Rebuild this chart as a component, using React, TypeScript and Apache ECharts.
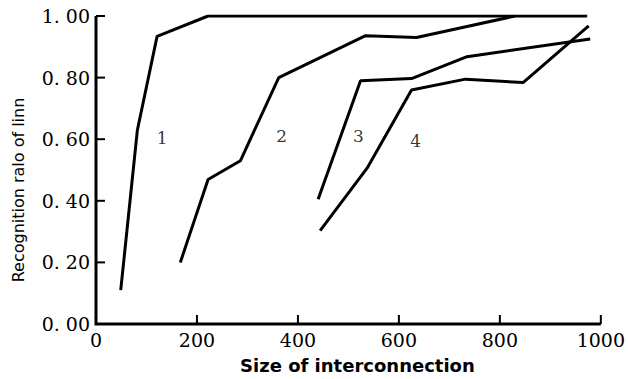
import React, { useEffect, useRef } from "react";
import * as echarts from "echarts";

const xTicks = [0, 200, 400, 600, 800, 1000];
const yTicks = [0, 0.2, 0.4, 0.6, 0.8, 1.0];

const curve1: [number, number][] = [[49, 0.11], [82, 0.63], [121, 0.934], [222, 1.0], [973, 1.0]];
const curve2: [number, number][] = [[167, 0.2], [222, 0.469], [286, 0.53], [362, 0.8], [534, 0.936], [635, 0.93], [830, 1.0]];
const curve3: [number, number][] = [[440, 0.405], [524, 0.79], [625, 0.797], [735, 0.868], [979, 0.925]];
const curve4: [number, number][] = [[444, 0.303], [537, 0.506], [625, 0.76], [732, 0.795], [846, 0.784], [976, 0.968]];

const curveLabels = ["1", "2", "3", "4"];
const curveLabelPos: [number, number][] = [[131, 0.603], [368, 0.609], [520, 0.609], [633, 0.593]];

const xName = "Size of interconnection";
const yName = "Recognition ralo of linn";

export default function App() {
  const ref = useRef<HTMLDivElement>(null);
  useEffect(() => {
    const chart = echarts.init(ref.current!, null, { renderer: "svg" });
    const xMin = xTicks[0];
    const xMax = xTicks[xTicks.length - 1];
    const yMin = yTicks[0];
    const yMax = yTicks[yTicks.length - 1];
    const lineSeries = [curve1, curve2, curve3, curve4].map((d) => ({
      type: "line",
      data: d,
      symbol: "none",
      lineStyle: { color: "#000", width: 3 },
      z: 3,
    }));
    chart.setOption({
      animation: false,
      backgroundColor: "#fff",
      grid: { left: 96, right: 19, top: 16, bottom: 51 },
      xAxis: {
        type: "value",
        min: xMin,
        max: xMax,
        interval: 200,
        name: xName,
        nameLocation: "middle",
        nameGap: 32,
        nameTextStyle: { fontFamily: "DejaVu Sans", fontSize: 18, fontWeight: "bold", color: "#000", padding: [0, 0, 0, 18] },
        axisLine: { show: false },
        axisTick: { show: false },
        axisLabel: { fontFamily: "DejaVu Serif", fontSize: 19, color: "#000", margin: 6, formatter: (v: number) => String(v) },
        splitLine: { show: false },
      },
      yAxis: {
        type: "value",
        min: yMin,
        max: yMax,
        interval: 0.2,
        axisLine: { show: false },
        axisTick: { show: false },
        axisLabel: {
          fontFamily: "DejaVu Serif",
          fontSize: 19,
          color: "#000",
          margin: 6,
          formatter: (v: number) => v.toFixed(2).replace(".", ". "),
        },
        splitLine: { show: false },
      },
      graphic: [
        {
          type: "text",
          x: 18,
          y: 190,
          rotation: Math.PI / 2,
          style: {
            text: yName,
            fontFamily: "DejaVu Sans",
            fontSize: 16,
            fill: "#000",
            align: "center",
            verticalAlign: "middle",
          },
        },
      ],
      series: [
        ...lineSeries,
        {
          type: "scatter",
          data: curveLabelPos.map((p, i) => ({ value: p, name: curveLabels[i] })),
          symbolSize: 0,
          label: {
            show: true,
            position: "inside",
            formatter: (p: any) => p.name,
            fontFamily: "DejaVu Serif",
            fontSize: 17,
            color: "#000",
          },
          z: 4,
        },
        {
          type: "custom",
          coordinateSystem: "cartesian2d",
          data: [[xMin, yMin]],
          clip: false,
          renderItem: (params: any, api: any) => {
            const a = api.coord([xMin, yMax]);
            const o = api.coord([xMin, yMin]);
            const b = api.coord([xMax, yMin]);
            return {
              type: "polyline",
              shape: { points: [a, o, b] },
              style: { stroke: "#000", lineWidth: 3, fill: "none" },
            };
          },
          silent: true,
          z: 5,
        },
        {
          type: "custom",
          coordinateSystem: "cartesian2d",
          data: xTicks.slice(1).map((v) => [v, yMin]),
          clip: false,
          renderItem: (params: any, api: any) => {
            const p = api.coord([api.value(0), yMin]);
            return {
              type: "polyline",
              shape: { points: [[p[0], p[1]], [p[0], p[1] - 9]] },
              style: { stroke: "#000", lineWidth: 2, fill: "none" },
            };
          },
          silent: true,
          z: 5,
        },
        {
          type: "custom",
          coordinateSystem: "cartesian2d",
          data: yTicks.slice(1).map((v) => [xMin, v]),
          clip: false,
          renderItem: (params: any, api: any) => {
            const p = api.coord([xMin, api.value(1)]);
            return {
              type: "polyline",
              shape: { points: [[p[0], p[1]], [p[0] + 9, p[1]]] },
              style: { stroke: "#000", lineWidth: 2, fill: "none" },
            };
          },
          silent: true,
          z: 5,
        },
      ],
    });
    return () => chart.dispose();
  }, []);
  return <div ref={ref} style={{ position: "fixed", left: 0, top: 0, width: 628, height: 379 }} />;
}
